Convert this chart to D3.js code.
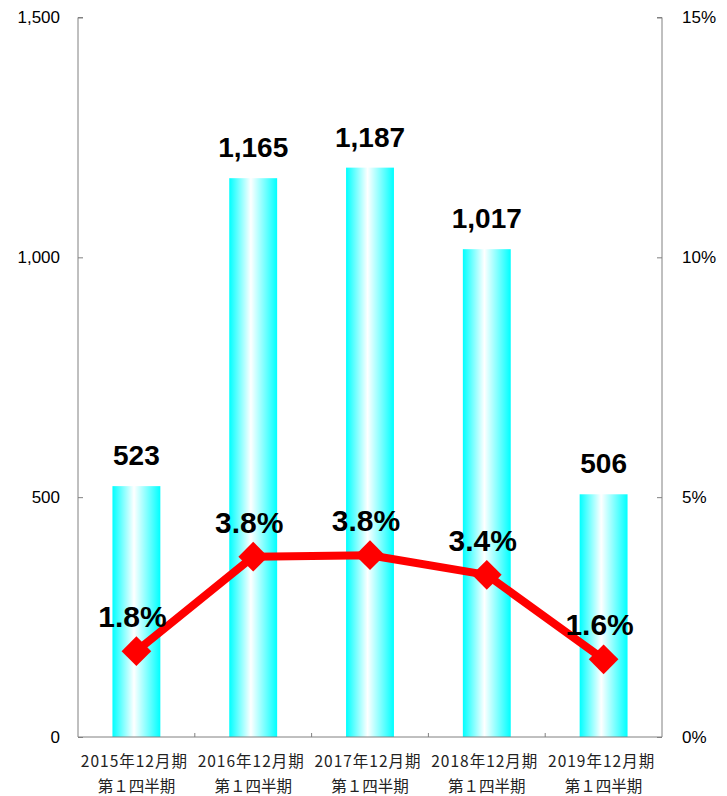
<!DOCTYPE html>
<html>
<head>
<meta charset="utf-8">
<script src="https://cdn.jsdelivr.net/npm/d3@7"></script>
<style>
  body { margin: 0; background: #fff; }
  svg { display: block; }
</style>
</head>
<body>
<svg width="727" height="796"></svg>
<script>
const categories = ["2015年12月期", "2016年12月期", "2017年12月期", "2018年12月期", "2019年12月期"];
const subLabel = "第１四半期";
const profit = [523, 1165, 1187, 1017, 506];
const margin = [1.79, 3.76, 3.79, 3.38, 1.62];
const leftTicks = [0, 500, 1000, 1500];
const rightTicks = [0, 5, 10, 15];

function drawChart() {
  const svg = d3.select("svg");
  const m = { top: 17.5, left: 78 };
  const innerWidth = 662 - m.left;
  const innerHeight = 737 - m.top;

  const defs = svg.append("defs");
  const grad = defs.append("linearGradient")
    .attr("id", "barGrad")
    .attr("x1", "0%").attr("x2", "100%").attr("y1", "0%").attr("y2", "0%");
  grad.append("stop").attr("offset", "0%").attr("stop-color", "#00ffff");
  grad.append("stop").attr("offset", "45%").attr("stop-color", "#ffffff");
  grad.append("stop").attr("offset", "100%").attr("stop-color", "#00ffff");

  const g = svg.append("g").attr("transform", `translate(${m.left},${m.top})`);

  const x = d3.scaleBand().domain(categories).range([0, innerWidth]);
  const y = d3.scaleLinear().domain([0, 1500]).range([innerHeight, 0]);
  const y2 = d3.scaleLinear().domain([0, 15]).range([innerHeight, 0]);
  const barW = x.bandwidth() * 0.41;
  const cx = i => x(categories[i]) + x.bandwidth() / 2;

  // Barras
  g.selectAll("rect.bar")
    .data(profit)
    .join("rect")
    .attr("class", "bar")
    .attr("x", (d, i) => cx(i) - barW / 2)
    .attr("y", d => y(d))
    .attr("width", barW)
    .attr("height", d => innerHeight - y(d))
    .attr("fill", "url(#barGrad)");

  // Eixos
  const axisColor = "#808080";
  const left = g.append("g")
    .call(d3.axisRight(y).tickValues(leftTicks).tickSize(5).tickFormat(""));
  left.selectAll("path, line").attr("stroke", axisColor);
  left.select(".domain").attr("d", `M5,0H0V${innerHeight}`);

  const right = g.append("g")
    .attr("transform", `translate(${innerWidth},0)`)
    .call(d3.axisLeft(y2).tickValues(rightTicks).tickSize(5).tickFormat(""));
  right.selectAll("path, line").attr("stroke", axisColor);
  right.select(".domain").attr("d", `M-5,0H0V${innerHeight}`);

  const bottom = g.append("g")
    .attr("transform", `translate(0,${innerHeight})`);
  bottom.append("line")
    .attr("x1", 0).attr("x2", innerWidth)
    .attr("stroke", axisColor);
  bottom.selectAll("line.tick")
    .data(categories.slice(1))
    .join("line")
    .attr("class", "tick")
    .attr("x1", d => x(d)).attr("x2", d => x(d))
    .attr("y1", 0).attr("y2", -4)
    .attr("stroke", axisColor);

  // Rótulos dos eixos
  const tickFont = "'Liberation Sans', Arial, sans-serif";
  g.selectAll("text.lt")
    .data(leftTicks)
    .join("text")
    .attr("class", "lt")
    .attr("x", -18)
    .attr("y", d => y(d))
    .attr("dy", "0.35em")
    .attr("text-anchor", "end")
    .attr("font-family", tickFont)
    .attr("font-size", 17)
    .text(d => d3.format(",")(d));

  g.selectAll("text.rt")
    .data(rightTicks)
    .join("text")
    .attr("class", "rt")
    .attr("x", innerWidth + 20)
    .attr("y", d => y2(d))
    .attr("dy", "0.35em")
    .attr("text-anchor", "start")
    .attr("font-family", tickFont)
    .attr("font-size", 17)
    .text(d => d + "%");

  const cjk = "'Noto Sans CJK JP', 'Noto Sans', sans-serif";
  const xl = g.selectAll("text.xl")
    .data(categories)
    .join("text")
    .attr("class", "xl")
    .attr("y", innerHeight + 30)
    .attr("text-anchor", "middle")
    .attr("font-family", cjk)
    .attr("font-size", 15.5)
    .attr("fill", "#222");
  xl.append("tspan")
    .attr("x", (d, i) => cx(i) - 2)
    .attr("letter-spacing", 1)
    .text(d => d);
  xl.append("tspan")
    .attr("x", (d, i) => cx(i))
    .attr("dy", 25)
    .text(subLabel);

  // Valores das barras
  const boldFont = "'Liberation Sans', Arial, sans-serif";
  g.selectAll("text.val")
    .data(profit)
    .join("text")
    .attr("class", "val")
    .attr("x", (d, i) => cx(i))
    .attr("y", d => y(d) - 21)
    .attr("text-anchor", "middle")
    .attr("font-family", boldFont)
    .attr("font-weight", "bold")
    .attr("font-size", 28)
    .text(d => d3.format(",")(d));

  // Linha
  const line = d3.line()
    .x((d, i) => cx(i))
    .y(d => y2(d));
  g.append("path")
    .datum(margin)
    .attr("d", line)
    .attr("fill", "none")
    .attr("stroke", "#ff0000")
    .attr("stroke-width", 8)
    .attr("stroke-linejoin", "round");

  g.selectAll("path.mk")
    .data(margin)
    .join("path")
    .attr("class", "mk")
    .attr("transform", (d, i) => `translate(${cx(i)},${y2(d)}) rotate(45)`)
    .attr("d", d3.symbol().type(d3.symbolSquare).size(440))
    .attr("fill", "#ff0000");

  g.selectAll("text.pct")
    .data(margin)
    .join("text")
    .attr("class", "pct")
    .attr("x", (d, i) => cx(i) - 4)
    .attr("y", d => y2(d) - 24)
    .attr("text-anchor", "middle")
    .attr("font-family", boldFont)
    .attr("font-weight", "bold")
    .attr("font-size", 30)
    .text(d => d.toFixed(1) + "%");
}

drawChart();
</script>
</body>
</html>
